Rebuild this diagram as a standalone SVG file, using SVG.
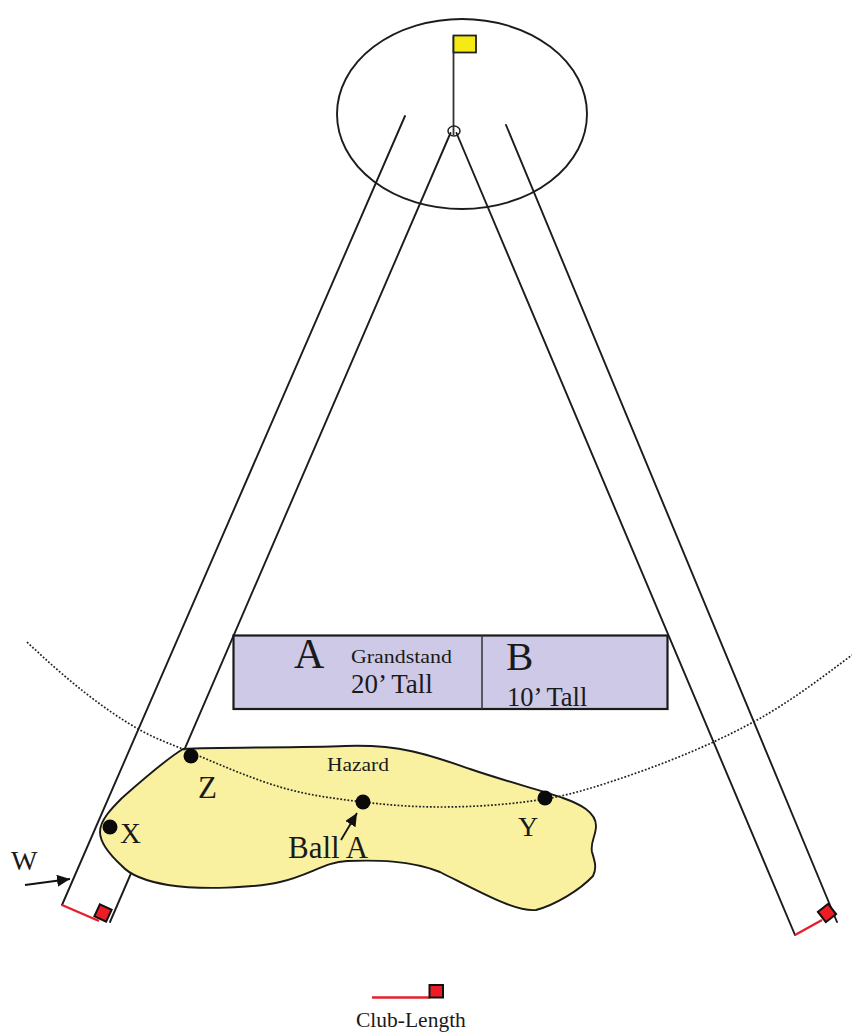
<svg xmlns="http://www.w3.org/2000/svg" width="852" height="1032" viewBox="0 0 852 1032">
<style>
text{font-family:"Liberation Serif","Times New Roman",serif;fill:#1a1a1a}
.l{fill:none;stroke:#1c1c1c;stroke-width:1.9;stroke-linecap:round}
.dot{fill:#0a0a0a}
.red{fill:none;stroke:#e4202c;stroke-width:2.4}
.sq{fill:#ee1c25;stroke:#111;stroke-width:2}
.dots{fill:none;stroke:#222;stroke-width:1.7;stroke-dasharray:1.8 1.8}
</style>
<defs>
<marker id="ah" markerUnits="userSpaceOnUse" markerWidth="14" markerHeight="12" refX="13" refY="6" orient="auto"><path d="M0 0L13 6L0 12Z" fill="#111"/></marker>
</defs>
<g id="green"><ellipse class="l" cx="462" cy="114" rx="125" ry="95"/></g>
<g id="connectors">
<path class="l" d="M405 116L62 905"/>
<path class="l" d="M450.500 133L110 922"/>
<path class="l" d="M456.500 133L795 935"/>
<path class="l" d="M506 125L837 922"/>
</g>
<g id="hazard"><path fill="#f9f1a0" stroke="#1a1a1a" stroke-width="1.900" d="M183 749C220 747 300 748 345 746C400 744 430 755 470 769C505 781 540 790 563 798C580 804 596 812 596 826C596 836 590 842 592 852C595 862 597 868 593 876C580 890 555 905 536 910C515 912 480 892 440 872C410 860 375 860 347 861C325 862 310 875 280 882C255 888 200 890 168 885C145 881 130 875 122 866C110 855 100 842 100 832C100 820 112 808 122 798C140 782 165 760 183 749Z"/></g>
<g id="grandstand">
<rect x="233.500" y="635.500" width="434" height="73.500" fill="#cdc9e6" stroke="#1a1a1a" stroke-width="2.200"/>
<path d="M482 635V709" stroke="#333" stroke-width="1.500"/>
<text x="294" y="668" font-size="42">A</text>
<text x="351" y="663" font-size="19.500" textLength="101" lengthAdjust="spacingAndGlyphs">Grandstand</text>
<text x="351" y="693" font-size="27">20’ Tall</text>
<text x="506" y="670" font-size="41">B</text>
<text x="507" y="706" font-size="26.500">10’ Tall</text>
</g>
<g id="boundary"><path class="dots" d="M27 642C64.700 677.800 102.300 708.900 140 730C155 738.400 170 743.700 185 750C216.700 763.300 248.300 777.500 280 787C307.700 795.300 335.300 798.700 363 802C388.700 805.100 414.300 807 440 807C475 807 510 804.600 545 799C566.700 795.500 588.300 789.200 610 782C659 765.800 708 747 757 720C788.700 702.600 820.300 678.800 852 655"/></g>
<g id="flag">
<path d="M453.500 36V135" stroke="#333" stroke-width="1.800"/>
<rect x="453.500" y="35.500" width="22.500" height="17" fill="#f5ea14" stroke="#222" stroke-width="1.800"/>
<ellipse cx="454" cy="131" rx="6" ry="5" fill="none" stroke="#222" stroke-width="1.500"/>
</g>
<g id="club-left"><path class="red" d="M62 905L99 921"/><rect class="sq" x="96.500" y="906.500" width="13" height="13" transform="rotate(25 103 913)"/></g>
<g id="club-right"><path class="red" d="M795 935L822 920"/><rect class="sq" x="820.500" y="906.500" width="13" height="13" transform="rotate(-38 827 913)"/></g>
<g id="legend"><path class="red" d="M372 997.500H430"/><rect class="sq" x="429.500" y="985" width="13.500" height="12.500"/><text x="356" y="1027" font-size="21.500">Club-Length</text></g>
<g id="point-z"><circle class="dot" cx="191" cy="756" r="7.500"/><text x="198" y="798" font-size="31">Z</text></g>
<g id="point-x"><circle class="dot" cx="110" cy="827" r="7.500"/><text x="120" y="843" font-size="29">X</text></g>
<g id="point-y"><circle class="dot" cx="545" cy="798" r="7.500"/><text x="518" y="836" font-size="28">Y</text></g>
<g id="ball-a"><circle class="dot" cx="363" cy="802" r="7.500"/><text x="288" y="858" font-size="31">Ball A</text><path d="M341 840L357 813" stroke="#111" stroke-width="1.800" marker-end="url(#ah)"/></g>
<g id="label-w"><text x="11" y="870" font-size="28">W</text><path d="M25 885L70 879" stroke="#111" stroke-width="1.800" marker-end="url(#ah)"/></g>
<g id="label-hazard"><text x="327" y="771" font-size="19" textLength="62" lengthAdjust="spacingAndGlyphs">Hazard</text></g>
</svg>
